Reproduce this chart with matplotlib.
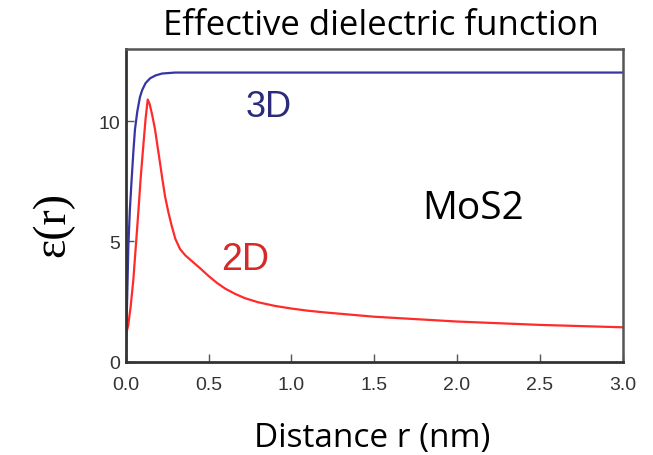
import numpy as np
import matplotlib.pyplot as plt

# distancia r (nm) y función dieléctrica efectiva
r_3d = [0.0, 0.005, 0.01, 0.016, 0.025, 0.036, 0.046, 0.056, 0.07, 0.086, 0.10, 0.12,
        0.147, 0.18, 0.22, 0.30, 1.0, 2.0, 3.0]
eps_3d = [0.0, 1.5, 3.0, 4.8, 6.3, 7.6, 8.7, 9.66, 10.4, 11.0, 11.3, 11.58,
          11.78, 11.9, 11.98, 12.02, 12.02, 12.02, 12.02]

r_2d = [0.0, 0.015, 0.03, 0.046, 0.06, 0.076, 0.09, 0.106, 0.12, 0.133, 0.145, 0.16,
        0.177, 0.19, 0.207, 0.22, 0.237, 0.258, 0.278, 0.30, 0.328, 0.36, 0.398, 0.45,
        0.499, 0.55, 0.60, 0.66, 0.72, 0.80, 0.90, 1.0, 1.1, 1.2, 1.5, 2.0, 2.5, 3.0]
eps_2d = [1.1, 1.5, 2.3, 3.4, 4.7, 6.2, 7.6, 8.96, 10.1, 10.9, 10.7, 10.25,
          9.66, 9.05, 8.27, 7.65, 6.89, 6.2, 5.64, 5.1, 4.68, 4.42, 4.19, 3.88,
          3.57, 3.28, 3.04, 2.82, 2.64, 2.47, 2.32, 2.21, 2.12, 2.05, 1.87, 1.67, 1.53, 1.43]

xticks = [0.0, 0.5, 1.0, 1.5, 2.0, 2.5, 3.0]
yticks = [0, 5, 10]

fig = plt.figure(figsize=(6.53, 4.56), dpi=100)
ax = fig.add_axes([0.1925, 0.2046, 0.7611, 0.6858])

ax.plot(r_3d, eps_3d, color='#3535a5', lw=1.6)
ax.plot(r_2d, eps_2d, color='#ff2b2b', lw=1.6)

ax.set_xlim(0, 3)
ax.set_ylim(0, 13)
ax.set_xticks(xticks)
ax.set_xticklabels([f'{t:.1f}' for t in xticks])
ax.set_yticks(yticks)
ax.tick_params(direction='in', length=6, width=1, color='#555555',
               labelsize=14, labelcolor='#333333')
ax.tick_params(axis='x', pad=10)
ax.tick_params(axis='y', pad=4)
for lab in ax.get_xticklabels() + ax.get_yticklabels():
    lab.set_family('Liberation Sans')

for side in ['left', 'bottom']:
    ax.spines[side].set_linewidth(2)
    ax.spines[side].set_color('#333333')
for side in ['top', 'right']:
    ax.spines[side].set_linewidth(1.8)
    ax.spines[side].set_color('#555555')

# etiquetas dentro del gráfico
ax.text(0.866, 10.2, '3D', color='#2b2b7a', fontsize=26, ha='center', va='baseline',
        family='Liberation Sans')
ax.text(0.723, 3.85, '2D', color='#d42a2a', fontsize=27, ha='center', va='baseline',
        family='Liberation Sans')
ax.text(2.096, 5.99, 'MoS2', color='black', fontsize=28, ha='center', va='baseline',
        family='Open Sans')

fig.text(0.584, 0.923, 'Effective dielectric function', fontsize=25, ha='center',
         va='baseline', family='Open Sans')
fig.text(0.570, 0.0204, 'Distance r (nm)', fontsize=24, ha='center', va='baseline',
         family='Open Sans')
fig.text(0.0816, 0.507, 'ε(r)', fontsize=33, rotation=90, ha='center', va='center',
         family='Liberation Serif')

fig.savefig('out.png', dpi=100)
